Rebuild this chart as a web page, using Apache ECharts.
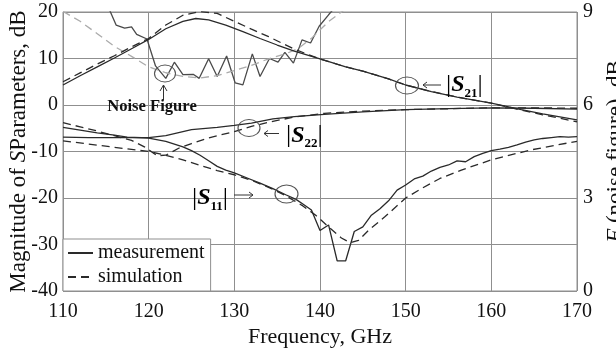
<!DOCTYPE html>
<html><head><meta charset="utf-8">
<script src="https://cdn.jsdelivr.net/npm/echarts@6/dist/echarts.min.js"></script>
<style>html,body{margin:0;padding:0;background:#fff}#c{width:616px;height:358px}</style>
</head><body><div id="c"></div>
<script>
// ---- data (frequency in GHz, |S| in dB, noise figure in dB) ----
const s21MeasF = [110,112,114,116,118,120,122,124,125.5,127,129,131,133,135,137,140,143,145,148,150,153,156,160,163.5,166,170];
const s21MeasV = [4.3,6.3,8.2,10.1,12.1,14.1,16.4,18.0,18.6,18.3,17.2,15.8,14.3,12.9,11.6,9.9,8.2,7.3,5.6,4.3,2.9,1.7,0.4,-1.0,-1.9,-3.2];
const s21SimF = [110,112,114,116,118,120,122,124,126,128,130,132,134,137,140,143,145,148,150,153,156,160,163.5,166,170];
const s21SimV = [5.0,6.9,8.8,10.6,12.5,14.3,17.2,19.3,20.1,19.7,18.0,16.3,14.7,12.0,9.9,8.2,7.3,5.6,4.3,2.9,1.7,0.4,-1.1,-2.1,-3.6];
const s22MeasF = [110,113,117,120,122,125,128,130,132,134.5,137,140.5,145,150,155,160,165,170];
const s22MeasV = [-6.9,-7.0,-7.0,-7.0,-6.6,-5.3,-4.8,-4.4,-3.9,-3.0,-2.5,-2.0,-1.5,-1.0,-0.8,-0.6,-0.7,-0.9];
const s22SimF = [110,112,114,116,118,119.5,121,122,123.5,125,127,130,132,134.5,137,140.5,145,150,155,160,165,170];
const s22SimV = [-3.8,-4.7,-5.6,-6.6,-7.6,-9.0,-10.9,-10.8,-9.3,-8.3,-7.1,-5.7,-4.6,-3.5,-2.6,-1.8,-1.3,-1.0,-0.8,-0.6,-0.6,-0.7];
const s11MeasF = [110,112,114,116,117.5,120,122,124,125,126,127,128,129,130,131.5,133,134.5,136,137.2,138,139,140,141,142,143,144,145,146,147,148,149,150,151,152,153,154,155,156,157,158,159,160,161,162,163,164,165,166,167,168,169,170];
const s11MeasV = [-4.8,-5.4,-6.0,-6.5,-6.9,-7.1,-7.8,-9.0,-9.8,-10.8,-12.0,-13.2,-14.0,-14.6,-15.7,-16.8,-18.0,-19.3,-20.3,-21.3,-22.6,-27.0,-25.8,-33.5,-33.5,-27.2,-26.2,-23.7,-22.3,-20.6,-18.3,-17.2,-15.9,-15.3,-14.2,-13.4,-12.9,-12.0,-12.2,-11.1,-10.4,-9.8,-9.5,-9.1,-8.6,-8.0,-7.5,-7.2,-7.0,-6.8,-6.9,-6.8];
const s11SimF = [110,113,116,120,122,124,126,128,130,132,134,136,138,139.5,141,142.5,143.5,144.5,145.7,147.6,150,152,154,156.5,160,164.5,170];
const s11SimV = [-7.7,-8.4,-9.1,-10.0,-10.8,-11.8,-13.0,-14.1,-15.0,-16.2,-17.7,-19.5,-21.7,-23.7,-26.2,-28.6,-29.6,-29.1,-26.9,-24.0,-20.0,-17.8,-15.8,-14.0,-11.8,-9.7,-7.8];
const nfMeasF = [115.3,116.2,117.2,118.0,118.6,119.8,120.8,122.0,123.0,124.0,125.2,125.9,127.0,128.0,129.1,130.1,131.0,132.1,133.0,134.1,135.1,135.9,136.9,137.9,138.9,139.9,141.0,142.0];
const nfMeasV = [9.15,8.58,8.48,8.52,8.28,8.13,7.26,6.86,7.38,6.98,6.99,6.86,7.49,6.92,7.58,6.71,6.65,7.65,6.92,7.50,7.38,7.70,7.35,8.10,8.00,8.54,8.91,9.23];
const nfSimF = [110,112,114,116,118,120,122,124,126,128,130,132,134,136,137.5,139,141,143];
const nfSimV = [9.02,8.70,8.30,7.89,7.57,7.23,7.04,6.92,6.87,6.95,7.11,7.28,7.49,7.65,7.83,8.15,8.69,9.10];
const xTicks = [110,120,130,140,150,160,170];
const leftTicks = [-40,-30,-20,-10,0,10,20];
const rightTicks = [0,3,6,9];

const pair = (f, v) => f.map((x, i) => [x, v[i]]);
const FONT = 'Liberation Serif';
const DARK = '#2a2a2a';
const GRID = '#8f8f8f';

function line(name, f, v, dashed, color, yIdx) {
  return {
    name: name, type: 'line', yAxisIndex: yIdx || 0, data: pair(f, v),
    symbol: 'none', showSymbol: false, smooth: false, clip: true,
    lineStyle: {color: color || DARK, width: 1.3, type: dashed ? [8, 5] : 'solid'},
    itemStyle: {color: color || DARK}, emphasis: {disabled: true}, z: 3
  };
}

const chart = echarts.init(document.getElementById('c'), null, {renderer: 'canvas'});
const labelRich = {
  b: {fontFamily: FONT, fontSize: 26, color: '#111', lineHeight: 30, verticalAlign: 'middle'},
  s: {fontFamily: FONT, fontSize: 24, fontWeight: 'bold', fontStyle: 'italic', color: '#111', lineHeight: 24, verticalAlign: 'middle'},
  n: {fontFamily: FONT, fontSize: 13, fontWeight: 'bold', color: '#111', lineHeight: 14, verticalAlign: 'bottom'}
};
function sLabel(x, y, sub) {
  return {type: 'text', x: x, y: y, z: 10,
    style: {text: '{b||}{s|S}{n|' + sub + '}{b||}', rich: labelRich, textVerticalAlign: 'middle', textAlign: 'left'}};
}
function ell(cx, cy, rx, ry) {
  return {type: 'circle', x: cx, y: cy, scaleX: rx / 10, scaleY: ry / 10, z: 10,
    shape: {cx: 0, cy: 0, r: 10}, style: {fill: 'none', stroke: '#555', lineWidth: 1, strokeNoScale: true}};
}
function pl(points) {
  return {type: 'polyline', z: 10, shape: {points: points}, style: {fill: 'none', stroke: '#333', lineWidth: 1}};
}

chart.setOption({
  animation: false,
  backgroundColor: '#fff',
  grid: {left: 63, right: 39, top: 12, bottom: 67, outerBoundsMode: 'none', containLabel: false,
    show: true, borderColor: GRID, borderWidth: 1, backgroundColor: 'transparent'},
  legend: {
    data: ['measurement', 'simulation'], orient: 'vertical', left: 63, top: 239,
    padding: [4, 6, 4, 4], itemGap: 4, itemWidth: 25, itemHeight: 14,
    itemStyle: {opacity: 0, borderWidth: 0},
    backgroundColor: '#fff', borderColor: GRID, borderWidth: 1,
    textStyle: {fontFamily: FONT, fontSize: 20, color: '#111'}, selectedMode: false
  },
  xAxis: {
    type: 'value', min: xTicks[0], max: xTicks[xTicks.length - 1], interval: 10,
    name: 'Frequency, GHz', nameLocation: 'middle', nameGap: 35, nameMoveOverlap: false,
    nameTextStyle: {fontFamily: FONT, fontSize: 22, color: '#111'},
    axisLine: {show: false}, axisTick: {show: false},
    axisLabel: {fontFamily: FONT, fontSize: 20, color: '#111', margin: 11},
    splitLine: {show: true, lineStyle: {color: GRID, width: 1}}
  },
  yAxis: [{
    type: 'value', min: leftTicks[0], max: leftTicks[leftTicks.length - 1], interval: 10,
    name: '{t|Magnitude of }{i|S}{t|Parameters, dB}', nameLocation: 'middle', nameRotate: 90, nameGap: 33, nameMoveOverlap: false,
    nameTextStyle: {rich: {t: {fontFamily: FONT, fontSize: 23, color: '#111'}, i: {fontFamily: FONT, fontSize: 23, fontStyle: 'italic', color: '#111'}}},
    axisLine: {show: false}, axisTick: {show: false},
    axisLabel: {fontFamily: FONT, fontSize: 20, color: '#111', margin: 5},
    splitLine: {show: true, lineStyle: {color: GRID, width: 1}}
  }, {
    type: 'value', position: 'right', min: rightTicks[0], max: rightTicks[rightTicks.length - 1], interval: 3,
    name: '{i|F}{t| (noise figure), dB}', nameLocation: 'middle', nameRotate: 90, nameGap: 27, nameMoveOverlap: false,
    nameTextStyle: {rich: {t: {fontFamily: FONT, fontSize: 23, color: '#111'}, i: {fontFamily: FONT, fontSize: 23, fontStyle: 'italic', color: '#111'}}},
    axisLine: {show: false}, axisTick: {show: false},
    axisLabel: {fontFamily: FONT, fontSize: 20, color: '#111', margin: 6},
    splitLine: {show: false}
  }],
  series: [
    line('NF measurement', nfMeasF, nfMeasV, false, '#4a4a4a', 1),
    line('NF simulation', nfSimF, nfSimV, true, '#ababab', 1),
    line('S21 measurement', s21MeasF, s21MeasV, false),
    line('S21 simulation', s21SimF, s21SimV, true),
    line('S22 measurement', s22MeasF, s22MeasV, false),
    line('S22 simulation', s22SimF, s22SimV, true),
    line('S11 measurement', s11MeasF, s11MeasV, false),
    line('S11 simulation', s11SimF, s11SimV, true),
    line('measurement', [], [], false),
    line('simulation', [], [], true)
  ],
  graphic: [
    ell(165, 73.5, 10.5, 8.5),
    pl([[163.5, 100], [163.5, 85]]),
    pl([[160, 91], [163.5, 85], [167, 91]]),
    {type: 'text', x: 152, y: 107, z: 10, style: {text: 'Noise Figure', fontFamily: FONT, fontSize: 16.6, fontWeight: 'bold', fill: '#111', textAlign: 'center', textVerticalAlign: 'middle'}},
    ell(249, 128, 11, 8.5),
    pl([[264, 133.5], [279, 133.5]]),
    pl([[268, 130.5], [264, 133.5], [268, 136.5]]),
    sLabel(286, 135.5, '22'),
    ell(407, 85.5, 11.5, 8.5),
    pl([[423, 85], [441, 85]]),
    pl([[427, 82], [423, 85], [427, 88]]),
    sLabel(446, 85, '21'),
    ell(286.5, 194, 11.5, 9),
    pl([[234, 195], [253, 195]]),
    pl([[249, 192], [253, 195], [249, 198]]),
    sLabel(192, 198, '11')
  ]
});
</script></body></html>
